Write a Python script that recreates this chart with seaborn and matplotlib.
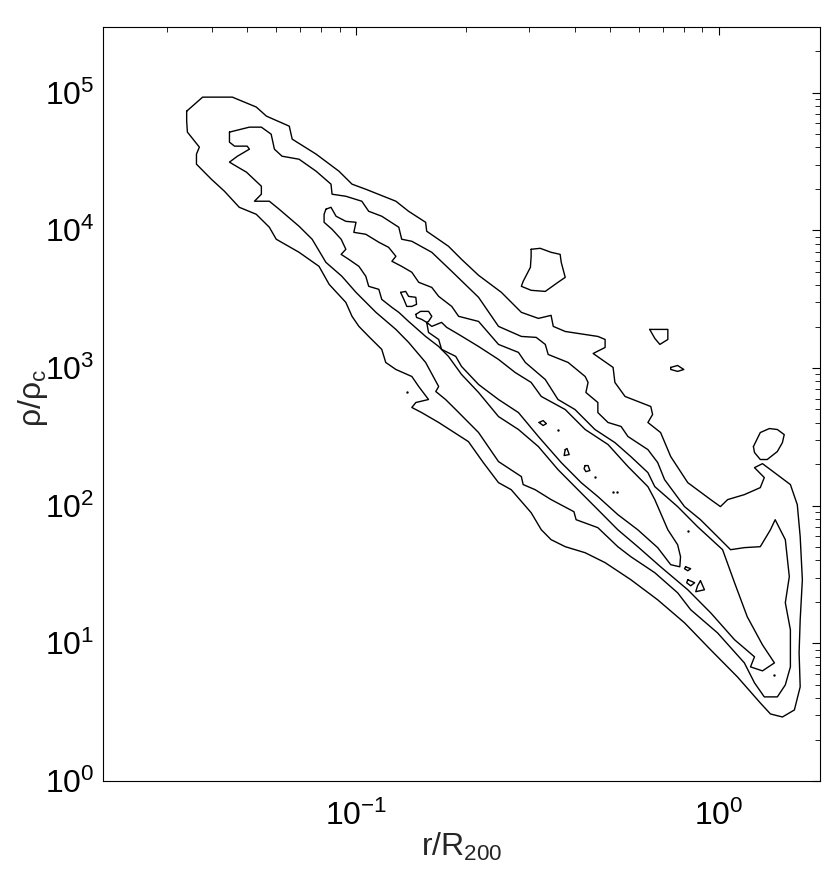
import numpy as np
import pandas as pd
import matplotlib
matplotlib.use("Agg")
import matplotlib.pyplot as plt
import seaborn as sns

# Contour outlines, as log10(r/R200) and log10(rho/rho_c)
level1_logr = [-1.468, -1.424, -1.342, -1.276, -1.248, -1.185, -1.177, -1.111, -1.048, -1.012,
               -0.974, -0.891, -0.856, -0.809, -0.806, -0.746, -0.710, -0.663, -0.600, -0.545,
               -0.498, -0.463, -0.457, -0.424, -0.334, -0.314, -0.314, -0.347, -0.292, -0.287,
               -0.259, -0.188, -0.183, -0.196, -0.161, -0.133, -0.086, -0.023, 0.004, 0.024,
               0.070, 0.114, 0.125, 0.098, 0.120, 0.153, 0.197, 0.216, 0.224, 0.230,
               0.224, 0.221, 0.224, 0.208, 0.175, 0.142, 0.114, 0.051, -0.023, -0.095,
               -0.169, -0.243, -0.314, -0.369, -0.424, -0.463, -0.490, -0.518, -0.573, -0.608,
               -0.650, -0.691, -0.773, -0.820, -0.847, -0.836, -0.801, -0.828, -0.847, -0.891,
               -0.919, -0.930, -0.966, -0.993, -1.012, -1.029, -1.075, -1.103, -1.158, -1.221,
               -1.240, -1.276, -1.323, -1.364, -1.400, -1.441, -1.441, -1.433, -1.466, -1.468]
level1_logrho = [4.865, 4.967, 4.967, 4.895, 4.829, 4.756, 4.662, 4.553, 4.429, 4.335,
                 4.298, 4.211, 4.138, 4.058, 3.993, 3.884, 3.789, 3.673, 3.549, 3.404,
                 3.360, 3.382, 3.302, 3.265, 3.229, 3.207, 3.149, 3.105, 3.004, 2.895,
                 2.793, 2.720, 2.662, 2.604, 2.531, 2.356, 2.167, 2.044, 1.993, 2.044,
                 2.080, 2.131, 2.204, 2.276, 2.305, 2.240, 2.153, 2.007, 1.775, 1.462,
                 1.171, 0.931, 0.684, 0.516, 0.465, 0.487, 0.567, 0.756, 0.953, 1.149,
                 1.316, 1.462, 1.586, 1.658, 1.702, 1.753, 1.825, 1.949, 2.116, 2.167,
                 2.313, 2.465, 2.604, 2.676, 2.713, 2.749, 2.771, 2.865, 2.938, 2.989,
                 3.040, 3.135, 3.229, 3.302, 3.375, 3.476, 3.607, 3.738, 3.840, 3.935,
                 4.022, 4.116, 4.167, 4.284, 4.371, 4.480, 4.553, 4.604, 4.713, 4.793]

level2_logr = [-1.350, -1.295, -1.262, -1.235, -1.226, -1.205, -1.158, -1.111, -1.070, -1.067,
               -1.029, -0.985, -0.966, -0.930, -0.883, -0.875, -0.847, -0.792, -0.737, -0.663,
               -0.608, -0.545, -0.504, -0.479, -0.471, -0.416, -0.369, -0.361, -0.367, -0.334,
               -0.334, -0.306, -0.270, -0.251, -0.196, -0.169, -0.150, -0.095, -0.051, -0.004,
               0.032, 0.070, 0.114, 0.142, 0.155, 0.169, 0.183, 0.194, 0.183, 0.197,
               0.197, 0.183, 0.161, 0.125, 0.098, 0.070, -0.004, -0.078, -0.114, -0.177,
               -0.243, -0.279, -0.334, -0.394, -0.400, -0.463, -0.507, -0.540, -0.545, -0.608,
               -0.663, -0.726, -0.754, -0.781, -0.773, -0.809, -0.856, -0.891, -0.946, -1.001,
               -1.040, -1.084, -1.122, -1.158, -1.213, -1.240, -1.281, -1.262, -1.262, -1.303,
               -1.331, -1.350, -1.328, -1.295, -1.301, -1.336, -1.350]
level2_logrho = [4.713, 4.749, 4.749, 4.698, 4.589, 4.538, 4.516, 4.429, 4.335, 4.262,
                 4.247, 4.211, 4.138, 4.102, 4.022, 3.935, 3.920, 3.840, 3.702, 3.513,
                 3.302, 3.229, 3.222, 3.171, 3.098, 3.040, 2.938, 2.895, 2.822, 2.749,
                 2.676, 2.604, 2.575, 2.502, 2.407, 2.313, 2.189, 1.993, 1.898, 1.775,
                 1.680, 1.695, 1.702, 1.825, 1.898, 1.825, 1.753, 1.484, 1.295, 1.098,
                 0.829, 0.698, 0.611, 0.611, 0.713, 0.858, 1.076, 1.244, 1.367, 1.513,
                 1.629, 1.702, 1.840, 1.898, 1.956, 2.044, 2.116, 2.153, 2.211, 2.320,
                 2.531, 2.698, 2.771, 2.829, 2.865, 3.040, 3.186, 3.280, 3.404, 3.549,
                 3.666, 3.767, 3.935, 4.029, 4.153, 4.211, 4.211, 4.262, 4.320, 4.422,
                 4.465, 4.495, 4.538, 4.589, 4.611, 4.611, 4.640]

level3_logr = [-1.084, -1.070, -1.056, -1.029, -1.001, -1.007, -0.974, -0.938, -0.911, -0.891,
               -0.902, -0.875, -0.847, -0.828, -0.792, -0.773, -0.737, -0.718, -0.663, -0.608,
               -0.553, -0.534, -0.479, -0.444, -0.397, -0.342, -0.287, -0.243, -0.196, -0.177,
               -0.114, -0.059, 0.010, 0.043, 0.078, 0.120, 0.153, 0.120, 0.087, 0.098,
               0.043, -0.023, -0.086, -0.161, -0.224, -0.279, -0.334, -0.389, -0.444, -0.498,
               -0.553, -0.608, -0.663, -0.710, -0.746, -0.773, -0.809, -0.856, -0.883, -0.902,
               -0.930, -0.938, -0.966, -0.974, -0.993, -1.021, -1.042, -1.029, -1.042, -1.067,
               -1.089, -1.089]
level3_logrho = [4.153, 4.167, 4.102, 4.065, 4.058, 3.985, 3.971, 3.913, 3.876, 3.811,
                 3.775, 3.738, 3.695, 3.622, 3.585, 3.520, 3.447, 3.375, 3.338, 3.171,
                 3.113, 3.040, 2.916, 2.771, 2.698, 2.553, 2.458, 2.356, 2.240, 2.138,
                 1.993, 1.847, 1.680, 1.440, 1.193, 0.989, 0.858, 0.800, 0.829, 0.902,
                 1.026, 1.222, 1.389, 1.556, 1.702, 1.825, 1.971, 2.116, 2.262, 2.429,
                 2.553, 2.647, 2.822, 2.953, 3.084, 3.156, 3.229, 3.338, 3.404, 3.440,
                 3.498, 3.571, 3.593, 3.666, 3.738, 3.789, 3.825, 3.862, 3.935, 4.007,
                 4.058, 4.116]

level4_logr = [-0.806, -0.792, -0.765, -0.751, -0.718, -0.663, -0.608, -0.562, -0.518, -0.490,
               -0.424, -0.369, -0.306, -0.251, -0.196, -0.177, -0.141, -0.114, -0.106, -0.108,
               -0.133, -0.169, -0.224, -0.279, -0.334, -0.380, -0.435, -0.498, -0.553, -0.608,
               -0.663, -0.710, -0.726, -0.765, -0.773, -0.801]
level4_logrho = [3.331, 3.302, 3.331, 3.295, 3.244, 3.156, 3.062, 2.967, 2.895, 2.793,
                 2.698, 2.553, 2.444, 2.284, 2.138, 2.044, 1.825, 1.716, 1.629, 1.556,
                 1.571, 1.695, 1.825, 1.935, 2.066, 2.167, 2.313, 2.502, 2.676, 2.771,
                 2.880, 3.011, 3.084, 3.135, 3.207, 3.258]

# small closed islands
island_a_logr = [-0.518, -0.493, -0.463, -0.438, -0.435, -0.424, -0.444, -0.479, -0.518, -0.545, -0.540, -0.520, -0.518]
island_a_logrho = [3.862, 3.869, 3.840, 3.825, 3.767, 3.658, 3.622, 3.556, 3.564, 3.593, 3.629, 3.731, 3.811]
island_b_logr = [-0.191, -0.141, -0.141, -0.163, -0.177]
island_b_logrho = [3.280, 3.280, 3.207, 3.171, 3.215]
island_c_logr = [-0.133, -0.114, -0.097, -0.114, -0.133]
island_c_logrho = [3.004, 3.018, 2.989, 2.975, 2.989]
island_d_logr = [0.095, 0.114, 0.139, 0.161, 0.180, 0.175, 0.161, 0.133, 0.114, 0.098]
island_d_logrho = [2.429, 2.531, 2.560, 2.553, 2.516, 2.458, 2.393, 2.335, 2.335, 2.386]
island_e_logr = [-0.878, -0.864, -0.856, -0.836, -0.834, -0.847, -0.861, -0.869]
island_e_logrho = [3.549, 3.556, 3.520, 3.513, 3.462, 3.447, 3.447, 3.498]
island_f_logr = [-0.836, -0.823, -0.801, -0.792, -0.801, -0.806, -0.820, -0.834]
island_f_logrho = [3.389, 3.411, 3.411, 3.375, 3.338, 3.331, 3.353, 3.367]
island_g_logr = [-0.496, -0.485, -0.476, -0.485]
island_g_logrho = [2.604, 2.618, 2.596, 2.582]
island_h_logr = [-0.424, -0.419, -0.413, -0.427]
island_h_logrho = [2.407, 2.415, 2.371, 2.364]
island_i_logr = [-0.369, -0.361, -0.356, -0.367, -0.372]
island_i_logrho = [2.291, 2.291, 2.255, 2.247, 2.269]
island_j_logr = [-0.051, -0.040, -0.064, -0.059]
island_j_logrho = [1.455, 1.389, 1.375, 1.418]
island_k_logr = [-0.086, -0.067, -0.078, -0.089]
island_k_logrho = [1.462, 1.440, 1.418, 1.440]
island_l_logr = [-0.092, -0.078, -0.086, -0.095]
island_l_logrho = [1.556, 1.542, 1.527, 1.542]

# single-cell contours that show up as dots
dots_logr = [-0.861, -0.444, -0.342, -0.292, -0.281, -0.086, 0.153]
dots_logrho = [2.822, 2.546, 2.211, 2.102, 2.102, 1.818, 0.771]


def outline(logr, logrho):
    """Closed outline in data units."""
    r = 10 ** np.append(logr, logr[0])
    rho = 10 ** np.append(logrho, logrho[0])
    return pd.DataFrame({"r": r, "rho": rho})


sns.set_theme(style="white")
plt.rcParams["font.family"] = ["Liberation Sans", "DejaVu Sans"]
plt.rcParams["mathtext.fontset"] = "custom"
plt.rcParams["mathtext.rm"] = "Liberation Sans"
plt.rcParams["mathtext.it"] = "Liberation Sans"

fig = plt.figure(figsize=(8.3, 8.82), dpi=100)
ax = fig.add_axes([0.124, 0.1145, 0.864, 0.855])

shapes = [
    (level1_logr, level1_logrho), (level2_logr, level2_logrho),
    (level3_logr, level3_logrho), (level4_logr, level4_logrho),
    (island_a_logr, island_a_logrho), (island_b_logr, island_b_logrho),
    (island_c_logr, island_c_logrho), (island_d_logr, island_d_logrho),
    (island_e_logr, island_e_logrho), (island_f_logr, island_f_logrho),
    (island_g_logr, island_g_logrho), (island_h_logr, island_h_logrho),
    (island_i_logr, island_i_logrho), (island_j_logr, island_j_logrho),
    (island_k_logr, island_k_logrho), (island_l_logr, island_l_logrho),
]
for lr, lrho in shapes:
    df = outline(lr, lrho)
    sns.lineplot(data=df, x="r", y="rho", sort=False, estimator=None,
                 color="black", lw=1.0, ax=ax)

dots = pd.DataFrame({"r": 10 ** np.array(dots_logr), "rho": 10 ** np.array(dots_logrho)})
sns.scatterplot(data=dots, x="r", y="rho", color="black", s=3, linewidth=0, ax=ax)

ax.set_xscale("log")
ax.set_yscale("log")
ax.set_xlim(0.02, 1.9)
ax.set_ylim(1, 3e5)

for side in ax.spines.values():
    side.set_visible(True)
    side.set_color("black")
    side.set_linewidth(0.8)

ax.tick_params(which="both", direction="in", top=True, right=True,
               labelsize=23, colors="black")
ax.tick_params(which="major", length=6, width=0.8)
ax.tick_params(which="minor", length=3.5, width=0.6)
ax.tick_params(axis="x", pad=14)
ax.tick_params(axis="y", pad=6)

ax.set_xlabel("r/R$_\\mathregular{200}$", fontsize=23)
ax.set_ylabel("\u03c1/\u03c1$_\\mathregular{c}$", fontsize=23)
ax.xaxis.set_label_coords(0.5, -0.066)
ax.yaxis.set_label_coords(-0.074, 0.508)

fig.savefig("out.png", dpi=100, facecolor="white")
